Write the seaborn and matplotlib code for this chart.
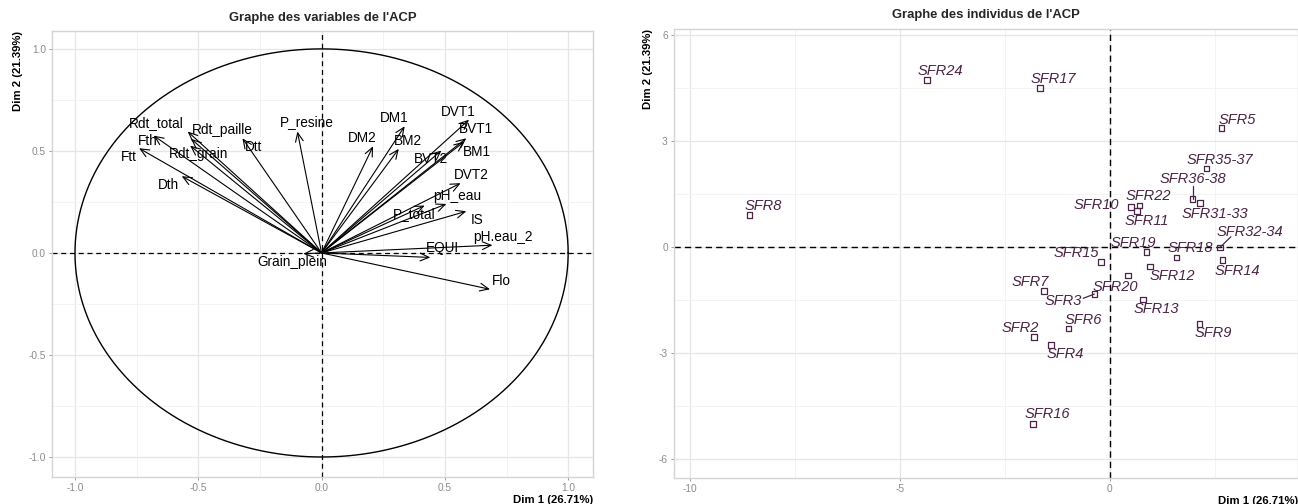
import numpy as np
import pandas as pd
import matplotlib
matplotlib.use("Agg")
import matplotlib.pyplot as plt
import seaborn as sns

# ---- Variables: coordinates on Dim 1 / Dim 2 (correlation circle) ----
var_names = ["Fth", "Ftt", "Rdt_paille", "Rdt_total", "Rdt_grain", "Dth", "Dtt", "P_resine",
             "DM2", "DM1", "BM2", "DVT1", "BVT1", "BM1", "BVT2", "DVT2", "pH_eau",
             "P_total", "IS", "pH.eau_2", "EQUI", "Flo", "Grain_plein"]
var_dim1 = [-0.681, -0.740, -0.543, -0.529, -0.533, -0.567, -0.321, -0.098,
            0.209, 0.337, 0.313, 0.598, 0.587, 0.578, 0.486, 0.564, 0.506,
            0.418, 0.587, 0.693, 0.441, 0.683, -0.074]
var_dim2 = [0.575, 0.513, 0.595, 0.559, 0.526, 0.376, 0.562, 0.595,
            0.523, 0.621, 0.510, 0.653, 0.562, 0.545, 0.502, 0.342, 0.240,
            0.232, 0.204, 0.038, -0.022, -0.178, -0.004]
# label anchors after repelling
var_lab_x = [-0.706, -0.783, -0.402, -0.669, -0.497, -0.621, -0.277, -0.061,
             0.165, 0.294, 0.351, 0.553, 0.628, 0.628, 0.445, 0.605, 0.551,
             0.375, 0.629, 0.736, 0.489, 0.729, -0.117]
var_lab_y = [0.548, 0.469, 0.604, 0.637, 0.485, 0.335, 0.518, 0.641,
             0.562, 0.660, 0.551, 0.693, 0.608, 0.494, 0.461, 0.382, 0.278,
             0.190, 0.162, 0.077, 0.023, -0.139, -0.046]

# ---- Individuals: coordinates on Dim 1 / Dim 2 ----
ind_names = ["SFR24", "SFR17", "SFR5", "SFR8", "SFR35-37", "SFR36-38", "SFR31-33",
             "SFR22", "SFR10", "SFR11", "SFR19", "SFR18", "SFR32-34", "SFR14",
             "SFR15", "SFR12", "SFR20", "SFR7", "SFR3", "SFR13", "SFR6", "SFR9",
             "SFR2", "SFR4", "SFR16"]
ind_dim1 = [-4.35, -1.67, 2.66, -8.58, 2.30, 1.97, 2.14,
            0.70, 0.50, 0.65, 0.87, 1.59, 2.62, 2.68,
            -0.21, 0.95, 0.43, -1.57, -0.37, 0.79, -0.99, 2.13,
            -1.81, -1.40, -1.83]
ind_dim2 = [4.73, 4.50, 3.36, 0.90, 2.22, 1.35, 1.24,
            1.17, 1.13, 1.01, -0.15, -0.31, -0.02, -0.38,
            -0.43, -0.56, -0.82, -1.26, -1.34, -1.49, -2.31, -2.19,
            -2.55, -2.78, -5.02]
ind_lab_x = [-4.03, -1.35, 3.04, -8.25, 2.62, 1.98, 2.49,
             0.91, -0.32, 0.87, 0.56, 1.92, 3.33, 3.03,
             -0.79, 1.48, 0.12, -1.90, -1.11, 1.11, -0.63, 2.46,
             -2.13, -1.07, -1.50]
ind_lab_y = [4.97, 4.76, 3.60, 1.15, 2.47, 1.92, 0.94,
             1.43, 1.19, 0.72, 0.12, -0.04, 0.43, -0.68,
             -0.18, -0.84, -1.13, -0.99, -1.55, -1.77, -2.07, -2.45,
             -2.31, -3.05, -4.75]
# segments joining a displaced label to its point
leader_names = ["SFR36-38", "SFR3", "SFR32-34"]
leader_x = [1.97, -0.635, 2.88]
leader_y = [1.72, -1.46, 0.28]

dim1_label = "Dim 1 (26.71%)"
dim2_label = "Dim 2 (21.39%)"

sns.set_theme(style="whitegrid")
plt.rcParams["font.family"] = ["Liberation Sans", "DejaVu Sans"]

ind_color = "#4a2446"
grid_major = "#e6e6e6"
grid_minor = "#f3f3f3"
frame_col = "#d4d4d4"
tick_col = "#8c8c8c"


def style_axes(ax, xmajor, xminor, ymajor, yminor, fmt):
    ax.set_xticks(xmajor)
    ax.set_yticks(ymajor)
    ax.set_xticks(xminor, minor=True)
    ax.set_yticks(yminor, minor=True)
    ax.set_xticklabels([fmt(v) for v in xmajor])
    ax.set_yticklabels([fmt(v) for v in ymajor])
    ax.grid(which="major", color=grid_major, linewidth=0.9)
    ax.grid(which="minor", color=grid_minor, linewidth=0.7)
    ax.set_axisbelow(True)
    ax.tick_params(which="major", length=2.5, width=0.6, color=tick_col,
                   labelcolor=tick_col, labelsize=7.3, pad=2, direction="out",
                   bottom=True, left=True)
    ax.tick_params(which="minor", length=0)
    for s in ax.spines.values():
        s.set_color(frame_col)
        s.set_linewidth(1.0)
    ax.set_facecolor("white")
    ax.set_xlabel(dim1_label, loc="right", fontsize=8.2, fontweight="bold",
                  color="black", labelpad=1)
    ax.set_ylabel(dim2_label, loc="top", fontsize=8.2, fontweight="bold",
                  color="black", labelpad=4)


fig = plt.figure(figsize=(12.98, 5.04), dpi=100)
ax1 = fig.add_axes([0.0401, 0.0536, 0.4168, 0.885])
ax2 = fig.add_axes([0.5193, 0.0516, 0.4807, 0.891])

# ---------------- Correlation circle ----------------
ax1.set_xlim(-1.093, 1.101)
ax1.set_ylim(-1.098, 1.088)
style_axes(ax1, [-1, -0.5, 0, 0.5, 1], [-0.75, -0.25, 0.25, 0.75],
           [-1, -0.5, 0, 0.5, 1], [-0.75, -0.25, 0.25, 0.75],
           lambda v: f"{v:.1f}")

theta = np.linspace(0, 2 * np.pi, 400)
ax1.plot(np.cos(theta), np.sin(theta), color="black", linewidth=1.0)
ax1.axhline(0, color="black", linestyle=(0, (4, 3)), linewidth=0.9)
ax1.axvline(0, color="black", linestyle=(0, (4, 3)), linewidth=0.9)

for x, y in zip(var_dim1, var_dim2):
    ax1.annotate("", xy=(x, y), xytext=(0, 0), xycoords="data",
                 arrowprops=dict(arrowstyle="->,head_length=0.45,head_width=0.2",
                                 color="black", lw=0.8, shrinkA=0, shrinkB=0,
                                 mutation_scale=14))
for name, lx, ly in zip(var_names, var_lab_x, var_lab_y):
    ax1.text(lx, ly, name, ha="center", va="center", fontsize=9.8, color="black")

ax1.set_title("Graphe des variables de l'ACP", fontsize=9.4, fontweight="bold", pad=7)

# ---------------- Individuals map ----------------
ind_df = pd.DataFrame({"name": ind_names, "Dim1": ind_dim1, "Dim2": ind_dim2})
ax2.set_xlim(-10.38, 4.48)
ax2.set_ylim(-6.55, 6.17)
style_axes(ax2, [-10, -5, 0], [-7.5, -2.5, 2.5],
           [-6, -3, 0, 3, 6], [-4.5, -1.5, 1.5, 4.5],
           lambda v: f"{v:g}")
ax2.axhline(0, color="black", linestyle=(0, (4.5, 3)), linewidth=1.0, zorder=1)
ax2.axvline(0, color="black", linestyle=(0, (4.5, 3)), linewidth=1.0, zorder=1)

sns.scatterplot(data=ind_df, x="Dim1", y="Dim2", ax=ax2, marker="s", s=16,
                facecolor="none", edgecolor=ind_color, linewidth=0.9, zorder=3)

lookup = dict(zip(ind_names, zip(ind_dim1, ind_dim2)))
for name, ex, ey in zip(leader_names, leader_x, leader_y):
    px, py = lookup[name]
    ax2.plot([ex, px], [ey, py], color=ind_color, linewidth=0.9, zorder=3)

for name, lx, ly in zip(ind_names, ind_lab_x, ind_lab_y):
    ax2.text(lx, ly, name, ha="center", va="center", fontsize=10.5,
             style="italic", color=ind_color, zorder=4)

ax2.set_title("Graphe des individus de l'ACP", fontsize=9.4, fontweight="bold", pad=8)

fig.savefig("out.png", dpi=100, facecolor="white")
